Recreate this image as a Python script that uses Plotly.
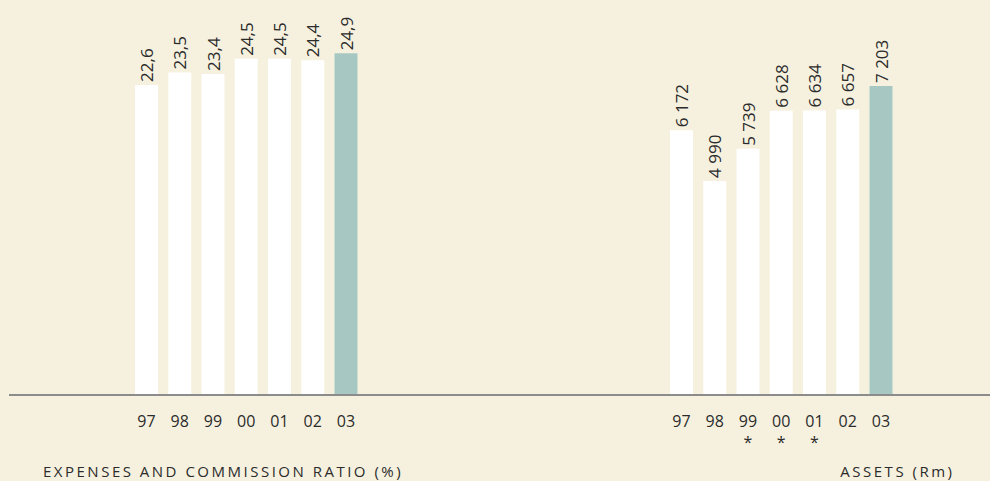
import plotly.graph_objects as go

years = ["97", "98", "99", "00", "01", "02", "03"]
left_ticks = ["97", "98", "99", "00", "01", "02", "03"]
right_ticks = ["97", "98", "99<br>*", "00<br>*", "01<br>*", "02", "03"]
expenses_ratio = [22.6, 23.5, 23.4, 24.5, 24.5, 24.4, 24.9]
assets_rm = [6172, 4990, 5739, 6628, 6634, 6657, 7203]
left_title = "EXPENSES AND COMMISSION RATIO (%)"
right_title = "ASSETS (Rm)"

BG = "#F6F1DF"
WHITE = "#FFFFFF"
TEAL = "#A7C7C2"
TXT = "#2b2b2b"
FONT = "Open Sans"

colors = [WHITE] * 6 + [TEAL]

def fmt_ratio(v):
    return f"{v:.1f}".replace(".", ",")

def fmt_assets(v):
    return f"{v:,}".replace(",", " ")

fig = go.Figure()
fig.add_trace(go.Bar(
    x=years, y=expenses_ratio, marker=dict(color=colors, line=dict(width=0)),
    text=[fmt_ratio(v) for v in expenses_ratio], textposition="outside",
    textangle=-90, textfont=dict(family=FONT, size=17, color=TXT),
    constraintext="none",
    cliponaxis=False, xaxis="x", yaxis="y", hoverinfo="skip",
))
fig.add_trace(go.Bar(
    x=years, y=assets_rm, marker=dict(color=colors, line=dict(width=0)),
    text=[fmt_assets(v) for v in assets_rm], textposition="outside",
    textangle=-90, textfont=dict(family=FONT, size=17, color=TXT),
    constraintext="none",
    cliponaxis=False, xaxis="x2", yaxis="y2", hoverinfo="skip",
))

W, H = 990, 481
base_px = 395
pitch = 33.25
c_left = 146.5
c_right = 681.5

fig.update_layout(
    width=W, height=H,
    margin=dict(l=0, r=0, t=0, b=H - base_px),
    paper_bgcolor=BG, plot_bgcolor=BG,
    showlegend=False, bargap=0.31,
    font=dict(family=FONT, color=TXT),
    xaxis=dict(domain=[0, 0.5], type="category",
               range=[-c_left / pitch, (495 - c_left) / pitch],
               tickvals=years, ticktext=left_ticks, showgrid=False,
               zeroline=False, showline=False, ticks="",
               tickfont=dict(family=FONT, size=16, color=TXT), ticklabelstandoff=15),
    xaxis2=dict(domain=[0.5, 1], type="category", anchor="y2",
                range=[(495 - c_right) / pitch, (990 - c_right) / pitch],
                tickvals=years, ticktext=right_ticks, showgrid=False,
                zeroline=False, showline=False, ticks="",
                tickfont=dict(family=FONT, size=16, color=TXT), ticklabelstandoff=15),
    yaxis=dict(range=[0, base_px / 13.72], visible=False),
    yaxis2=dict(range=[0, base_px / 0.0429], visible=False, anchor="x2"),
    shapes=[dict(type="line", xref="paper", yref="paper",
                 x0=9 / W, x1=1, y0=0, y1=0,
                 line=dict(color="#8c8c8c", width=2))],
    annotations=[
        dict(text=left_title, xref="paper", yref="paper", x=43 / W, xanchor="left",
             y=-(471 - base_px) / base_px, yanchor="middle", showarrow=False,
             font=dict(family=FONT, size=15, color=TXT)),
        dict(text=right_title, xref="paper", yref="paper", x=952 / W, xanchor="right",
             y=-(471 - base_px) / base_px, yanchor="middle", showarrow=False,
             font=dict(family=FONT, size=15, color=TXT)),
    ],
)

post = """
document.body.style.margin='0';
document.body.style.overflow='hidden';
var st=document.createElement('style');
st.textContent='.annotation-text{letter-spacing:2.5px}';
document.head.appendChild(st);
var targets=[[43,'left'],[952,'right']];
document.querySelectorAll('.annotation-text').forEach(function(t,i){
  var tg=targets[i]; if(!tg) return;
  var r=t.getBoundingClientRect();
  var dx = tg[1]==='left' ? (tg[0]-r.left) : (tg[0]+2.5-r.right);
  var old=t.getAttribute('transform')||'';
  t.setAttribute('transform','translate('+dx+',0) '+old);
});
"""

fig.write_html("out.html", config={"displayModeBar": False}, post_script=post)
